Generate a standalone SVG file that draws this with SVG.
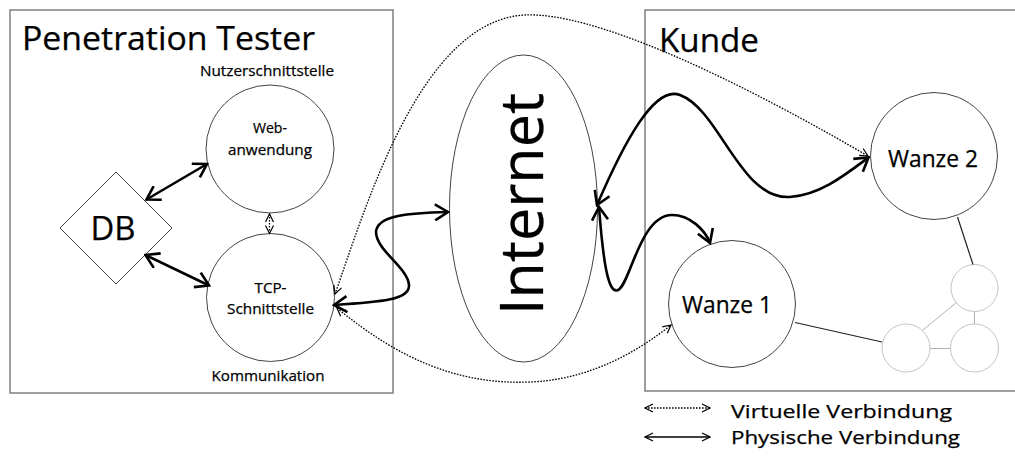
<svg xmlns="http://www.w3.org/2000/svg" width="1015" height="459" viewBox="0 0 1015 459">
<style>
text{font-family:"Open Sans","Noto Sans","Liberation Sans",sans-serif;fill:#000;stroke:#000;stroke-width:0.25}
.box{fill:none;stroke:#7f7f7f;stroke-width:1.5}
.node{fill:#fff;stroke:#444;stroke-width:1}
.small{fill:#fff;stroke:#c4c4c4;stroke-width:1}
.phys{fill:none;stroke:#000;stroke-width:2.6;marker-start:url(#ah);marker-end:url(#ah)}
.virt{fill:none;stroke:#000;stroke-width:1.3;stroke-dasharray:1.6 1.4;marker-start:url(#dh);marker-end:url(#dh)}
.c{text-anchor:middle}
</style>
<defs>
<marker id="ah" viewBox="0 0 16 18" refX="14" refY="9" markerWidth="16" markerHeight="18" markerUnits="userSpaceOnUse" orient="auto-start-reverse">
<path d="M1,1 L14,9 L1,17" fill="none" stroke="#000" stroke-width="2.6" stroke-linejoin="miter"/>
</marker>
<marker id="dh" viewBox="0 0 10 10" refX="9" refY="5" markerWidth="10" markerHeight="10" markerUnits="userSpaceOnUse" orient="auto-start-reverse">
<path d="M1,1 L9,5 L1,9" fill="none" stroke="#000" stroke-width="1.2"/>
</marker>
</defs>
<rect width="1015" height="459" fill="#fff"/>

<g id="pentester">
<rect class="box" x="10" y="10" width="383" height="383"/>
<text x="22" y="50" font-size="32" textLength="293" lengthAdjust="spacingAndGlyphs">Penetration Tester</text>
<text x="267" y="76" font-size="15" class="c" textLength="134" lengthAdjust="spacingAndGlyphs">Nutzerschnittstelle</text>
<text x="268" y="381" font-size="15" class="c" textLength="113" lengthAdjust="spacingAndGlyphs">Kommunikation</text>
</g>

<g id="kunde">
<rect class="box" x="645" y="10" width="380" height="381"/>
<text x="659" y="52" font-size="33" textLength="100" lengthAdjust="spacingAndGlyphs">Kunde</text>
</g>

<g id="db">
<polygon class="node" points="116,172 172,228 116,284 60,228"/>
<text x="113" y="240" font-size="32" class="c" textLength="45" lengthAdjust="spacingAndGlyphs">DB</text>
</g>

<g id="web">
<circle class="node" cx="270" cy="149" r="64"/>
<text x="270" y="133" font-size="15" class="c" textLength="34" lengthAdjust="spacingAndGlyphs">Web-</text>
<text x="270" y="155" font-size="15" class="c" textLength="84" lengthAdjust="spacingAndGlyphs">anwendung</text>
</g>

<g id="tcp">
<circle class="node" cx="270.5" cy="297.5" r="64"/>
<text x="270.5" y="293" font-size="15" class="c" textLength="32" lengthAdjust="spacingAndGlyphs">TCP-</text>
<text x="270.5" y="314" font-size="15" class="c" textLength="87" lengthAdjust="spacingAndGlyphs">Schnittstelle</text>
</g>

<g id="internet">
<ellipse class="node" cx="523.5" cy="208.5" rx="74" ry="153.5"/>
<text transform="translate(543,204) rotate(-90)" x="0" y="0" font-size="60" class="c" textLength="222" lengthAdjust="spacingAndGlyphs">Internet</text>
</g>

<g id="wanze2">
<circle class="node" cx="934" cy="156" r="63.5"/>
<text x="933" y="167" font-size="23" class="c" textLength="90" lengthAdjust="spacingAndGlyphs">Wanze 2</text>
</g>

<g id="wanze1">
<circle class="node" cx="732" cy="304" r="63.5"/>
<text x="727" y="313" font-size="23" class="c" textLength="90" lengthAdjust="spacingAndGlyphs">Wanze 1</text>
</g>

<g id="mesh">
<line x1="974.5" y1="311.5" x2="974.5" y2="324.5" stroke="#b0b0b0" stroke-width="1"/>
<line x1="930" y1="348.5" x2="950.5" y2="348.5" stroke="#b0b0b0" stroke-width="1"/>
<line x1="923" y1="330" x2="957" y2="302" stroke="#b0b0b0" stroke-width="1"/>
<circle class="small" cx="974.5" cy="288" r="23.5"/>
<circle class="small" cx="906" cy="348" r="24"/>
<circle class="small" cx="974.5" cy="348" r="24"/>
</g>

<g id="connectors">
<line x1="957.5" y1="217" x2="973" y2="264.5" stroke="#222" stroke-width="1.2"/>
<line x1="795" y1="322.5" x2="882" y2="342" stroke="#222" stroke-width="1.2"/>
<line class="phys" x1="146.5" y1="199.5" x2="207" y2="164"/>
<line class="phys" x1="145.5" y1="255" x2="209" y2="285.5"/>
<line class="virt" x1="269.5" y1="214" x2="269.5" y2="233.5"/>
<path class="phys" d="M334,305 C380,302 410,300 409,285 C408,268 376,250 376,232 C377,215 410,213 448,212"/>
<path class="phys" d="M597,205 C625,140 655,85 680,95 C720,110 740,200 790,197 C820,195 845,175 868.5,157.5"/>
<path class="phys" d="M599,207 C603,260 608,295 618,290 C630,285 640,215 672,215 C690,215 705,230 710,243"/>
<path class="virt" d="M335,294 C365,210 420,20 525,15 C590,12 720,70 868,156"/>
<path class="virt" d="M337,308 C400,360 460,385 530,382 C590,380 640,350 671,325"/>
</g>

<g id="legend">
<line class="virt" x1="645" y1="408" x2="710" y2="408"/>
<line x1="645" y1="437" x2="710" y2="437" stroke="#000" stroke-width="1.6" marker-start="url(#dh)" marker-end="url(#dh)"/>
<text x="731" y="418" font-size="19" textLength="221" lengthAdjust="spacingAndGlyphs">Virtuelle Verbindung</text>
<text x="731" y="444" font-size="19" textLength="229" lengthAdjust="spacingAndGlyphs">Physische Verbindung</text>
</g>
</svg>
